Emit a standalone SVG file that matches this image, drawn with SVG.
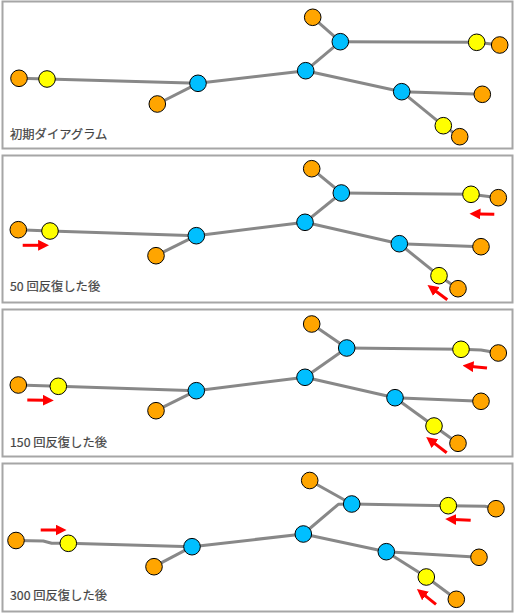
<svg xmlns="http://www.w3.org/2000/svg" width="515" height="614" viewBox="0 0 515 614">
<style>
.panel{fill:#fff;stroke:#a6a6a6;stroke-width:2}
.e{fill:none;stroke:#888;stroke-width:3;stroke-linejoin:round}
.n circle{stroke:#000;stroke-width:1}
.o{fill:#ffa500}
.y{fill:#ffff00}
.b{fill:#00bfff}
.lbl{font-family:"Noto Sans CJK JP","Noto Sans",sans-serif;font-size:12.3px;fill:#444;stroke:#444;stroke-width:0.2}
.arr{stroke:#ff0000;stroke-width:3;fill:none;marker-end:url(#ah)}
</style>
<defs>
<marker id="ah" viewBox="0 0 10 10" markerWidth="11" markerHeight="11" markerUnits="userSpaceOnUse" refX="2" refY="5" orient="auto">
<path d="M0,0 L10,5 L0,10 z" fill="#ff0000"/>
</marker>
</defs>
<rect width="515" height="614" fill="#fff"/>
<g id="panels">
<rect class="panel" x="2.5" y="1.5" width="510" height="147"/>
<rect class="panel" x="2.5" y="155.5" width="510" height="147"/>
<rect class="panel" x="2.5" y="309.5" width="510" height="147"/>
<rect class="panel" x="2.5" y="463.5" width="510" height="148"/>
</g>
<g id="connectors">
<path class="e" d="M19,78.3 L47,79"/>
<path class="e" d="M47,79 L198,83.3"/>
<path class="e" d="M198,83.3 L157.3,104"/>
<path class="e" d="M198,83.3 L305.7,70.7"/>
<path class="e" d="M305.7,70.7 L340.3,41.7"/>
<path class="e" d="M340.3,41.7 L312.7,17.3"/>
<path class="e" d="M340.3,41.7 L476.7,42.3"/>
<path class="e" d="M476.7,42.3 L499.7,45"/>
<path class="e" d="M305.7,70.7 L401.7,91.7"/>
<path class="e" d="M401.7,91.7 L482.3,94.3"/>
<path class="e" d="M401.7,91.7 L443.3,125.7"/>
<path class="e" d="M443.3,125.7 L459.7,136.7"/>
<path class="e" d="M18.3,229.7 L50,231"/>
<path class="e" d="M50,231 L196.3,235.7"/>
<path class="e" d="M196.3,235.7 L156,255.7"/>
<path class="e" d="M196.3,235.7 L305,222.3"/>
<path class="e" d="M305,222.3 L341.3,193"/>
<path class="e" d="M341.3,193 L311.7,168.7"/>
<path class="e" d="M341.3,193 L471,194.3"/>
<path class="e" d="M471,194.3 L498.3,197.7"/>
<path class="e" d="M305,222.3 L399.3,243.7"/>
<path class="e" d="M399.3,243.7 L481,246.7"/>
<path class="e" d="M399.3,243.7 L439,275.7"/>
<path class="e" d="M439,275.7 L458,288.7"/>
<path class="e" d="M18.3,385 L58.3,386.3"/>
<path class="e" d="M58.3,386.3 L196.3,390.7"/>
<path class="e" d="M196.3,390.7 L156,410.7"/>
<path class="e" d="M196.3,390.7 L305,377.3"/>
<path class="e" d="M305,377.3 L346.7,348"/>
<path class="e" d="M346.7,348 L311.7,324"/>
<path class="e" d="M346.7,348 L461,349.3"/>
<path class="e" d="M461,349.3 L481,350 L498.3,353"/>
<path class="e" d="M305,377.3 L395,397.7"/>
<path class="e" d="M395,397.7 L481,401.3"/>
<path class="e" d="M395,397.7 L434,426"/>
<path class="e" d="M434,426 L458,443.3"/>
<path class="e" d="M16,540.5 L43.3,541 L51.7,543.3 L68.3,543.3"/>
<path class="e" d="M68.3,543.3 L192,546.7"/>
<path class="e" d="M192,546.7 L154,566.7"/>
<path class="e" d="M192,546.7 L303.3,534"/>
<path class="e" d="M303.3,534 L338.3,504.3 L351.7,504"/>
<path class="e" d="M351.7,504 L309.7,480.5"/>
<path class="e" d="M351.7,504 L448.3,505.7"/>
<path class="e" d="M448.3,505.7 L485,506.3 L496,508.7"/>
<path class="e" d="M303.3,534 L386.3,551.7"/>
<path class="e" d="M386.3,551.7 L479,557.3"/>
<path class="e" d="M386.3,551.7 L426.3,577"/>
<path class="e" d="M426.3,577 L456.3,599.3"/>
</g>
<g id="nodes1" class="n">
<circle class="o" cx="19" cy="78.3" r="8.3"/>
<circle class="y" cx="47" cy="79" r="8.3"/>
<circle class="b" cx="198" cy="83.3" r="8.3"/>
<circle class="o" cx="157.3" cy="104" r="8.3"/>
<circle class="o" cx="312.7" cy="17.3" r="8.3"/>
<circle class="b" cx="340.3" cy="41.7" r="8.3"/>
<circle class="y" cx="476.7" cy="42.3" r="8.3"/>
<circle class="o" cx="499.7" cy="45" r="8.3"/>
<circle class="b" cx="305.7" cy="70.7" r="8.3"/>
<circle class="b" cx="401.7" cy="91.7" r="8.3"/>
<circle class="o" cx="482.3" cy="94.3" r="8.3"/>
<circle class="y" cx="443.3" cy="125.7" r="8.3"/>
<circle class="o" cx="459.7" cy="136.7" r="8.3"/>
</g>
<g id="nodes2" class="n">
<circle class="o" cx="18.3" cy="229.7" r="8.3"/>
<circle class="y" cx="50" cy="231" r="8.3"/>
<circle class="b" cx="196.3" cy="235.7" r="8.3"/>
<circle class="o" cx="156" cy="255.7" r="8.3"/>
<circle class="o" cx="311.7" cy="168.7" r="8.3"/>
<circle class="b" cx="341.3" cy="193" r="8.3"/>
<circle class="y" cx="471" cy="194.3" r="8.3"/>
<circle class="o" cx="498.3" cy="197.7" r="8.3"/>
<circle class="b" cx="305" cy="222.3" r="8.3"/>
<circle class="b" cx="399.3" cy="243.7" r="8.3"/>
<circle class="o" cx="481" cy="246.7" r="8.3"/>
<circle class="y" cx="439" cy="275.7" r="8.3"/>
<circle class="o" cx="458" cy="288.7" r="8.3"/>
</g>
<g id="nodes3" class="n">
<circle class="o" cx="18.3" cy="385" r="8.3"/>
<circle class="y" cx="58.3" cy="386.3" r="8.3"/>
<circle class="b" cx="196.3" cy="390.7" r="8.3"/>
<circle class="o" cx="156" cy="410.7" r="8.3"/>
<circle class="o" cx="311.7" cy="324" r="8.3"/>
<circle class="b" cx="346.7" cy="348" r="8.3"/>
<circle class="y" cx="461" cy="349.3" r="8.3"/>
<circle class="o" cx="498.3" cy="353" r="8.3"/>
<circle class="b" cx="305" cy="377.3" r="8.3"/>
<circle class="b" cx="395" cy="397.7" r="8.3"/>
<circle class="o" cx="481" cy="401.3" r="8.3"/>
<circle class="y" cx="434" cy="426" r="8.3"/>
<circle class="o" cx="458" cy="443.3" r="8.3"/>
</g>
<g id="nodes4" class="n">
<circle class="o" cx="16" cy="540.5" r="8.3"/>
<circle class="y" cx="68.3" cy="543.3" r="8.3"/>
<circle class="b" cx="192" cy="546.7" r="8.3"/>
<circle class="o" cx="154" cy="566.7" r="8.3"/>
<circle class="o" cx="309.7" cy="480.5" r="8.3"/>
<circle class="b" cx="351.7" cy="504" r="8.3"/>
<circle class="y" cx="448.3" cy="505.7" r="8.3"/>
<circle class="o" cx="496" cy="508.7" r="8.3"/>
<circle class="b" cx="303.3" cy="534" r="8.3"/>
<circle class="b" cx="386.3" cy="551.7" r="8.3"/>
<circle class="o" cx="479" cy="557.3" r="8.3"/>
<circle class="y" cx="426.3" cy="577" r="8.3"/>
<circle class="o" cx="456.3" cy="599.3" r="8.3"/>
</g>
<g id="arrows">
<line class="arr" x1="22.7" y1="245.3" x2="40.3" y2="245.3"/>
<line class="arr" x1="494.3" y1="214.3" x2="478.3" y2="213.9"/>
<line class="arr" x1="447.3" y1="299.7" x2="434.6" y2="290.3"/>
<line class="arr" x1="27.3" y1="400" x2="45" y2="400.3"/>
<line class="arr" x1="487" y1="368" x2="471.3" y2="366.4"/>
<line class="arr" x1="446.7" y1="452.7" x2="433.2" y2="442.4"/>
<line class="arr" x1="40.7" y1="530" x2="57.7" y2="530"/>
<line class="arr" x1="470.7" y1="520.3" x2="454" y2="519.4"/>
<line class="arr" x1="436" y1="604.3" x2="423.8" y2="594.6"/>
</g>
<g id="labels">
<text class="lbl" x="10" y="138.5">初期ダイアグラム</text>
<text class="lbl" x="10" y="291">50 回反復した後</text>
<text class="lbl" x="10" y="446.5">150 回反復した後</text>
<text class="lbl" x="10" y="599.5">300 回反復した後</text>
</g>
</svg>
